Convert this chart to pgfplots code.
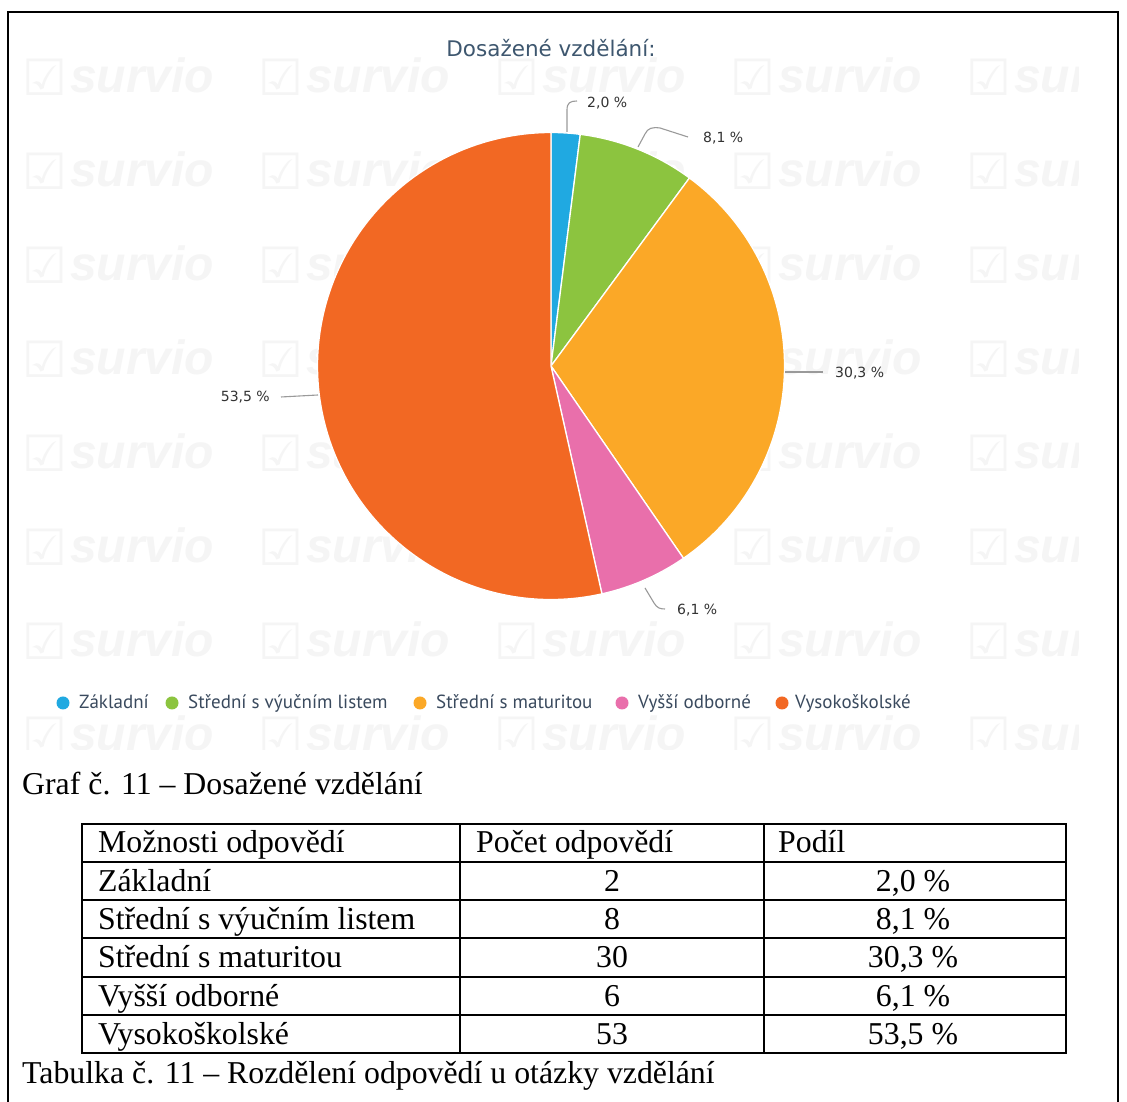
\documentclass[border=0pt]{standalone}
\usepackage{fontspec}
\setmainfont{Liberation Serif}
\newfontfamily\djv{DejaVu Sans}
\newfontfamily\ptsans{PT Sans}
\newfontfamily\wmfont{Liberation Sans}
\usepackage{pgfplots}
\usepackage{pgfplotstable}
\pgfplotsset{compat=1.18}
\definecolor{slice0}{HTML}{20A9E1}
\definecolor{slice1}{HTML}{8CC43F}
\definecolor{slice2}{HTML}{FBA827}
\definecolor{slice3}{HTML}{E96FAB}
\definecolor{slice4}{HTML}{F26823}
\definecolor{wm}{HTML}{F5F5F5}
\definecolor{titlec}{HTML}{3E576F}
\definecolor{legc}{HTML}{3A4A5E}
\definecolor{labc}{HTML}{333333}
\definecolor{leader}{HTML}{9A9A9A}

% slices: start and share in percent, pie centre in pixels
\pgfplotstableread{
cx cy start pct idx
551 366 0.0 2.0 0
551 366 2.0 8.1 1
551 366 10.1 30.3 2
551 366 40.4 6.1 3
551 366 46.5 53.5 4
}\piedata

\newcommand\labfont{\djv\fontsize{14}{16}\selectfont}
\newcommand\legfont{\ptsans\fontsize{19}{21}\selectfont}
\newcommand\tabfont{\fontsize{31.8}{36}\selectfont}

\begin{document}
\begin{tikzpicture}
\begin{scope}[x=1pt,y=-1pt,yshift=1102pt]
  \fill[white] (0,0) rectangle (1127,1102);
  \begin{scope}
    \clip (10,13) rectangle (1078,750);
    \foreach \wx in {22,258,494,730,966}{
      \foreach \wy in {93,187,281,375,469,563,657,751}{
        \node[anchor=base west, inner sep=0, text=wm, font=\djv\fontsize{50}{50}\selectfont] at (\wx,\wy+3) {☑};
        \node[anchor=base west, inner sep=0, text=wm, font=\wmfont\bfseries\itshape\fontsize{48}{48}\selectfont] at (\wx+48,\wy) {survio};
      }}
  \end{scope}
\end{scope}

\begin{axis}[at={(0pt,0pt)}, anchor=south west,
    width=1127pt, height=1102pt, scale only axis, hide axis,
    xmin=0, xmax=1127, ymin=0, ymax=1102, y dir=reverse, clip=false]
  \addplot[scatter, only marks, mark=*, mark size=0pt,
    visualization depends on={\thisrow{start} \as \st},
    visualization depends on={\thisrow{pct} \as \pc},
    visualization depends on={\thisrow{idx} \as \ix},
    scatter/@pre marker code/.code={%
      \pgfmathsetmacro\aa{90-3.6*\st}%
      \pgfmathsetmacro\ab{90-3.6*(\st+\pc)}%
      \pgfmathtruncatemacro\ii{\ix}%
      \filldraw[fill=slice\ii, draw=white, line width=1.3pt, line join=round, opacity=1]
        (0,0) -- (\aa:233.5pt) arc[start angle=\aa, end angle=\ab, radius=233.5pt] -- cycle;
    },
    scatter/@post marker code/.code={},
  ] table[x=cx, y=cy] {\piedata};
\end{axis}

\begin{scope}[x=1pt,y=-1pt,yshift=1102pt]
  % frame
  \draw[line width=2pt] (8,1102) -- (8,12) -- (1118,12) -- (1118,1102);
  % title
  \node[anchor=base, inner sep=0, text=titlec, font=\djv\fontsize{21.5}{24}\selectfont] at (551,57) {Dosažené vzdělání:};
  % leader lines and labels
  \draw[leader, line width=1.1pt] (567,132) -- (567,110) .. controls (567,103) and (570,101) .. (577,101);
  \draw[leader, line width=1.1pt] (638,147) -- (645,134) .. controls (648,128) and (652,127) .. (660,128) -- (688,137);
  \draw[leader, line width=1.1pt] (785,372) -- (823,372);
  \draw[leader, line width=1.1pt] (318,395) -- (281,397);
  \draw[leader, line width=1.1pt] (645,588) -- (654,603) .. controls (657,608) and (660,609) .. (665,609);
  \node[anchor=base west, inner sep=0, text=labc, font=\labfont] at (587,108) {2,0 \%};
  \node[anchor=base west, inner sep=0, text=labc, font=\labfont] at (703,143) {8,1 \%};
  \node[anchor=base west, inner sep=0, text=labc, font=\labfont] at (835,378) {30,3 \%};
  \node[anchor=base east, inner sep=0, text=labc, font=\labfont] at (270,402) {53,5 \%};
  \node[anchor=base west, inner sep=0, text=labc, font=\labfont] at (677,615) {6,1 \%};
  % legend
  \fill[slice0] (63,703) circle (6.5);
  \fill[slice1] (172,703) circle (6.5);
  \fill[slice2] (420,703) circle (6.5);
  \fill[slice3] (622,703) circle (6.5);
  \fill[slice4] (782,703) circle (6.5);
  \node[anchor=base west, inner sep=0, text=legc, font=\legfont] at (79,709) {Základní};
  \node[anchor=base west, inner sep=0, text=legc, font=\legfont] at (188,709) {Střední s výučním listem};
  \node[anchor=base west, inner sep=0, text=legc, font=\legfont] at (436,709) {Střední s maturitou};
  \node[anchor=base west, inner sep=0, text=legc, font=\legfont] at (638,709) {Vyšší odborné};
  \node[anchor=base west, inner sep=0, text=legc, font=\legfont] at (795,709) {Vysokoškolské};
  % captions
  \node[anchor=base west, inner sep=0, font=\tabfont] at (22,795) {Graf č. 11 – Dosažené vzdělání};
  \node[anchor=base west, inner sep=0, font=\tabfont] at (22,1084) {Tabulka č. 11 – Rozdělení odpovědí u otázky vzdělání};
  % table
  \draw[line width=2pt] (82,824) rectangle (1066,1053);
  \foreach \ry in {862,900,938,977,1015} \draw[line width=2pt] (82,\ry) -- (1066,\ry);
  \draw[line width=2pt] (460,824) -- (460,1053);
  \draw[line width=2pt] (764,824) -- (764,1053);
  \node[anchor=base west, inner sep=0, font=\tabfont] at (98,853) {Možnosti odpovědí};
  \node[anchor=base west, inner sep=0, font=\tabfont] at (476,853) {Počet odpovědí};
  \node[anchor=base west, inner sep=0, font=\tabfont] at (778,853) {Podíl};
  \node[anchor=base west, inner sep=0, font=\tabfont] at (98,892) {Základní};
  \node[anchor=base west, inner sep=0, font=\tabfont] at (98,930) {Střední s výučním listem};
  \node[anchor=base west, inner sep=0, font=\tabfont] at (98,968) {Střední s maturitou};
  \node[anchor=base west, inner sep=0, font=\tabfont] at (98,1007) {Vyšší odborné};
  \node[anchor=base west, inner sep=0, font=\tabfont] at (98,1045) {Vysokoškolské};
  \node[anchor=base, inner sep=0, font=\tabfont] at (612,892) {2};
  \node[anchor=base, inner sep=0, font=\tabfont] at (612,930) {8};
  \node[anchor=base, inner sep=0, font=\tabfont] at (612,968) {30};
  \node[anchor=base, inner sep=0, font=\tabfont] at (612,1007) {6};
  \node[anchor=base, inner sep=0, font=\tabfont] at (612,1045) {53};
  \node[anchor=base, inner sep=0, font=\tabfont] at (913,892) {2,0 \%};
  \node[anchor=base, inner sep=0, font=\tabfont] at (913,930) {8,1 \%};
  \node[anchor=base, inner sep=0, font=\tabfont] at (913,968) {30,3 \%};
  \node[anchor=base, inner sep=0, font=\tabfont] at (913,1007) {6,1 \%};
  \node[anchor=base, inner sep=0, font=\tabfont] at (913,1045) {53,5 \%};
\end{scope}
\pgfresetboundingbox
\path (0,0) rectangle (1127pt,1102pt);
\end{tikzpicture}
\end{document}
